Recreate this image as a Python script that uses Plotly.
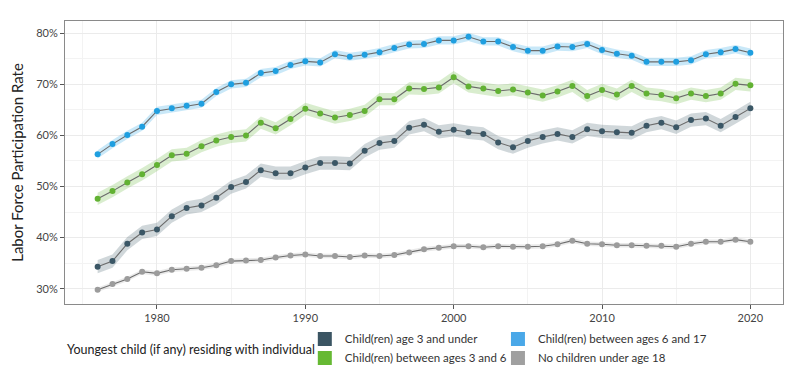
import plotly.graph_objects as go

years = list(range(1976, 2021))
x_ticks = [1980, 1990, 2000, 2010, 2020]
y_ticks = [30, 40, 50, 60, 70, 80]
y_tick_labels = ["30%", "40%", "50%", "60%", "70%", "80%"]

age_0_3 = [34.3, 35.4, 38.8, 41.0, 41.6, 44.2, 45.8, 46.3, 47.8, 49.9,
           50.9, 53.2, 52.6, 52.6, 53.7, 54.6, 54.6, 54.5, 57.0, 58.5,
           58.9, 61.5, 62.1, 60.7, 61.1, 60.6, 60.3, 58.6, 57.7, 58.9,
           59.7, 60.3, 59.7, 61.2, 60.8, 60.6, 60.5, 61.9, 62.5, 61.6,
           63.0, 63.3, 61.9, 63.6, 65.3]
age_3_6 = [47.6, 49.1, 50.8, 52.4, 54.2, 56.1, 56.4, 57.9, 59.0, 59.7,
           60.0, 62.5, 61.4, 63.2, 65.2, 64.3, 63.5, 64.0, 64.8, 67.1,
           67.1, 69.2, 69.1, 69.4, 71.4, 69.6, 69.2, 68.7, 69.0, 68.4,
           67.8, 68.6, 69.7, 67.7, 68.9, 68.0, 69.7, 68.2, 67.9, 67.3,
           68.2, 67.7, 68.2, 70.1, 69.8]
age_6_17 = [56.3, 58.3, 60.1, 61.7, 64.8, 65.3, 65.8, 66.2, 68.5, 70.0,
            70.3, 72.2, 72.6, 73.8, 74.5, 74.3, 75.9, 75.4, 75.8, 76.3,
            77.1, 77.8, 77.9, 78.6, 78.6, 79.3, 78.4, 78.4, 77.3, 76.6,
            76.6, 77.4, 77.3, 77.9, 76.7, 76.0, 75.6, 74.4, 74.4, 74.4,
            74.7, 75.9, 76.3, 76.9, 76.2]
no_child = [29.8, 30.9, 31.9, 33.3, 33.0, 33.7, 33.9, 34.1, 34.6, 35.4,
            35.5, 35.6, 36.1, 36.5, 36.7, 36.4, 36.4, 36.2, 36.5, 36.4,
            36.6, 37.1, 37.7, 38.0, 38.3, 38.3, 38.1, 38.3, 38.2, 38.2,
            38.3, 38.7, 39.4, 38.8, 38.7, 38.5, 38.5, 38.4, 38.4, 38.2,
            38.8, 39.2, 39.2, 39.6, 39.2]

series_names = ["Child(ren) age 3 and under", "Child(ren) between ages 3 and 6",
                "Child(ren) between ages 6 and 17", "No children under age 18"]
series_values = [age_0_3, age_3_6, age_6_17, no_child]
# approximate half-width of the confidence band (percentage points)
band_half = [1.3, 1.2, 0.8, 0.45]
colors = ["#3b5766", "#62b233", "#1f9fe0", "#9c9c9c"]
swatch_colors = ["#3b5563", "#66b933", "#4aa8e8", "#a0a0a0"]
band_colors = ["rgba(59,87,102,0.24)", "rgba(98,178,51,0.24)",
               "rgba(31,159,224,0.24)", "rgba(156,156,156,0.22)"]
legend_ids = ["legend", "legend", "legend2", "legend2"]

fig = go.Figure()

for vals, hw, bc in zip(series_values, band_half, band_colors):
    fig.add_trace(go.Scatter(x=years, y=[v - hw for v in vals], mode="lines",
                             line=dict(width=0), showlegend=False, hoverinfo="skip"))
    fig.add_trace(go.Scatter(x=years, y=[v + hw for v in vals], mode="lines",
                             line=dict(width=0), fill="tonexty", fillcolor=bc,
                             showlegend=False, hoverinfo="skip"))

for name, vals, c in zip(series_names, series_values, colors):
    fig.add_trace(go.Scatter(x=years, y=vals, mode="lines+markers", name=name,
                             line=dict(color="#6b6b6b", width=1.1),
                             marker=dict(color=c, size=6),
                             showlegend=False))

for name, sc, lg in zip(series_names, swatch_colors, legend_ids):
    fig.add_trace(go.Scatter(x=[None], y=[None], mode="markers", name=name,
                             legendgroup=name,
                             marker=dict(color=sc, size=14, symbol="square"),
                             legend=lg, showlegend=True))

font_family = "Lato, 'Open Sans', sans-serif"
legend_common = dict(orientation="v", xanchor="left", y=-0.072, yanchor="top",
                     font=dict(size=11.5, color="#333333"), tracegroupgap=2,
                     itemwidth=30, bgcolor="rgba(0,0,0,0)", traceorder="normal")
fig.update_layout(
    width=792, height=370,
    margin=dict(l=57, r=17, t=13, b=74, autoexpand=False),
    plot_bgcolor="white", paper_bgcolor="white",
    font=dict(family=font_family, color="#333333"),
    xaxis=dict(range=[1973.8, 2022.2], tickvals=x_ticks,
               showgrid=True, gridcolor="#ebebeb", gridwidth=1,
               minor=dict(tickvals=[1975, 1985, 1995, 2005, 2015], showgrid=True,
                          gridcolor="#f3f3f3", gridwidth=0.8),
               showline=True, linecolor="#8a8a8a", linewidth=1, mirror=True,
               ticks="outside", ticklen=4, tickcolor="#555555",
               tickfont=dict(size=11, color="#444444"), zeroline=False,
               automargin=False),
    yaxis=dict(range=[27.0, 82.4], tickvals=y_ticks, ticktext=y_tick_labels,
               showgrid=True, gridcolor="#ebebeb", gridwidth=1,
               minor=dict(tickvals=[35, 45, 55, 65, 75], showgrid=True,
                          gridcolor="#f3f3f3", gridwidth=0.8),
               showline=True, linecolor="#8a8a8a", linewidth=1, mirror=True,
               ticks="outside", ticklen=4, tickcolor="#555555",
               tickfont=dict(size=11, color="#444444"), zeroline=False,
               automargin=False,
               title=dict(text="Labor Force Participation Rate",
                          font=dict(size=15, color="#222222"), standoff=8)),
    legend=dict(x=0.334, **legend_common),
    legend2=dict(x=0.603, **legend_common),
    annotations=[dict(text="Youngest child (if any) residing with individual",
                      xref="paper", yref="paper", x=0, y=-0.1625,
                      xanchor="left", yanchor="middle", showarrow=False,
                      font=dict(size=12.5, color="#222222"))],
)

fig.write_html("out.html")
